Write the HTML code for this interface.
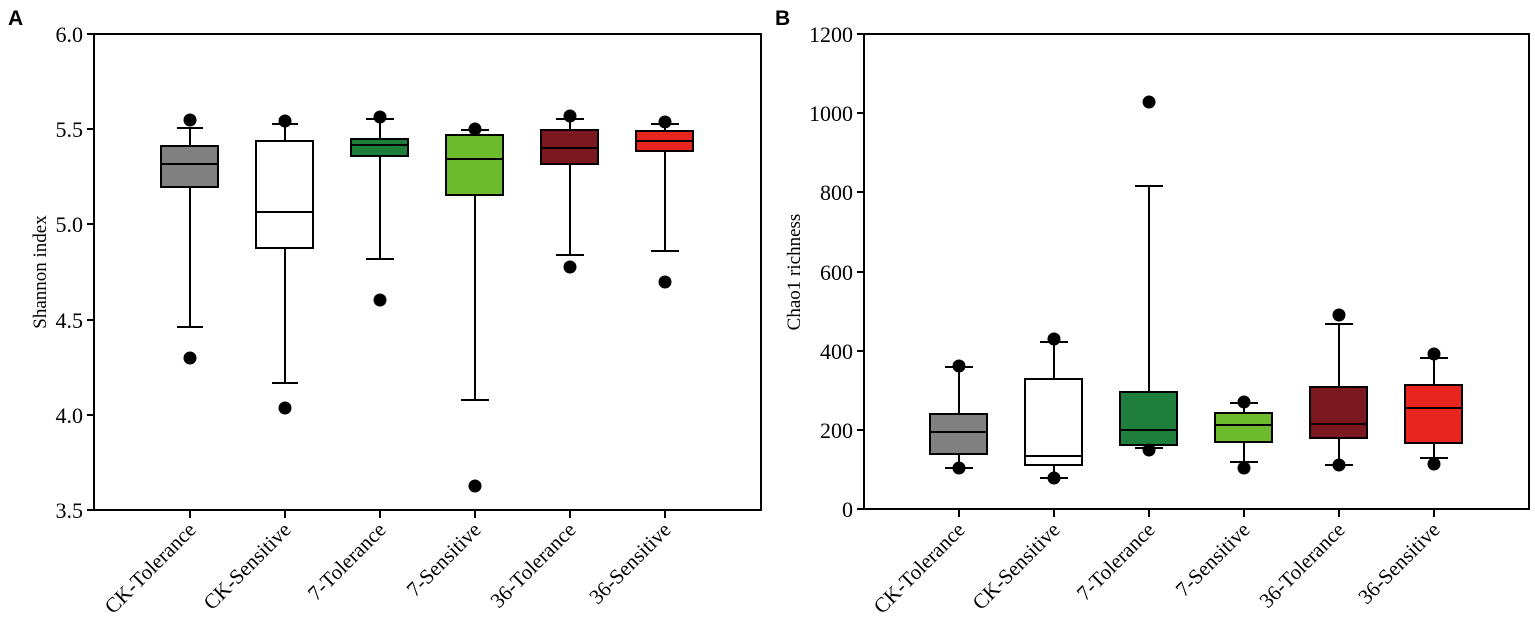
<!DOCTYPE html>
<html><head><style>body{margin:0;background:#fff}svg{display:block}</style></head><body>
<svg width="1535" height="626" xmlns="http://www.w3.org/2000/svg" font-family="Liberation Serif, serif">
<rect width="1535" height="626" fill="#fff"/>
<text x="8" y="25" font-family="Liberation Sans, sans-serif" font-weight="bold" font-size="21">A</text>
<text x="775" y="25" font-family="Liberation Sans, sans-serif" font-weight="bold" font-size="21">B</text>
<g stroke="#000" stroke-width="2" fill="none">
<rect x="94" y="34" width="667" height="476"/>
<rect x="864" y="34" width="665" height="475"/>
<path d="M87 34H94M87 129H94M87 224H94M87 320H94M87 415H94M87 510H94"/>
<path d="M190 510v8M285 510v8M380 510v8M475 510v8M570 510v8M665 510v8"/>
<path d="M857 34H864M857 113H864M857 192H864M857 272H864M857 351H864M857 430H864M857 509H864"/>
<path d="M959 509v8M1054 509v8M1149 509v8M1244 509v8M1339 509v8M1434 509v8"/>
</g>
<g font-size="22" text-anchor="end">
<text x="83" y="42">6.0</text><text x="83" y="137">5.5</text><text x="83" y="232">5.0</text><text x="83" y="328">4.5</text><text x="83" y="423">4.0</text><text x="83" y="518">3.5</text>
<text x="853" y="42">1200</text><text x="853" y="121">1000</text><text x="853" y="200">800</text><text x="853" y="280">600</text><text x="853" y="359">400</text><text x="853" y="438">200</text><text x="853" y="517">0</text>
</g>
<text transform="translate(46,272) rotate(-90)" font-size="19" text-anchor="middle">Shannon index</text>
<text transform="translate(800,272) rotate(-90)" font-size="19" text-anchor="middle">Chao1 richness</text>
<g font-size="21" text-anchor="end">
<text transform="translate(197,531) rotate(-45)">CK-Tolerance</text>
<text transform="translate(292,531) rotate(-45)">CK-Sensitive</text>
<text transform="translate(387,531) rotate(-45)">7-Tolerance</text>
<text transform="translate(482,531) rotate(-45)">7-Sensitive</text>
<text transform="translate(577,531) rotate(-45)">36-Tolerance</text>
<text transform="translate(672,531) rotate(-45)">36-Sensitive</text>
<text transform="translate(966,531) rotate(-45)">CK-Tolerance</text>
<text transform="translate(1061,531) rotate(-45)">CK-Sensitive</text>
<text transform="translate(1156,531) rotate(-45)">7-Tolerance</text>
<text transform="translate(1251,531) rotate(-45)">7-Sensitive</text>
<text transform="translate(1346,531) rotate(-45)">36-Tolerance</text>
<text transform="translate(1441,531) rotate(-45)">36-Sensitive</text>
</g>
<g stroke="#000" stroke-width="2">
<path d="M190 128V327M177 128H203M177 327H203"/><rect x="161" y="146" width="57" height="41" fill="#808080"/><path d="M161 164H218"/>
<path d="M285 124V383M272 124H298M272 383H298"/><rect x="256" y="141" width="57" height="107" fill="#fff"/><path d="M256 212H313"/>
<path d="M380 119V259M366 119H394M366 259H394"/><rect x="351" y="139" width="57" height="17" fill="#1e7e3c"/><path d="M351 145H408"/>
<path d="M475 130V400M461 130H489M461 400H489"/><rect x="446" y="135" width="57" height="60" fill="#6cbb2c"/><path d="M446 159H503"/>
<path d="M570 119V255M556 119H584M556 255H584"/><rect x="541" y="130" width="57" height="34" fill="#7b1820"/><path d="M541 148H598"/>
<path d="M665 124V251M651 124H679M651 251H679"/><rect x="636" y="131" width="57" height="20" fill="#e8261f"/><path d="M636 141H693"/>
<path d="M959 367V468M945 367H973M945 468H973"/><rect x="930" y="414" width="57" height="40" fill="#808080"/><path d="M930 432H987"/>
<path d="M1054 342V478M1040 342H1068M1040 478H1068"/><rect x="1025" y="379" width="57" height="86" fill="#fff"/><path d="M1025 456H1082"/>
<path d="M1149 186V448M1135 186H1163M1135 448H1163"/><rect x="1120" y="392" width="57" height="53" fill="#1e7e3c"/><path d="M1120 430H1177"/>
<path d="M1244 403V462M1230 403H1258M1230 462H1258"/><rect x="1215" y="413" width="57" height="29" fill="#6cbb2c"/><path d="M1215 425H1272"/>
<path d="M1339 324V465M1325 324H1353M1325 465H1353"/><rect x="1310" y="387" width="57" height="51" fill="#7b1820"/><path d="M1310 424H1367"/>
<path d="M1434 358V458M1420 358H1448M1420 458H1448"/><rect x="1405" y="385" width="57" height="58" fill="#e8261f"/><path d="M1405 408H1462"/>
</g>
<g fill="#000">
<circle cx="190" cy="120" r="6.5"/><circle cx="190" cy="358" r="6.5"/>
<circle cx="285" cy="121" r="6.5"/><circle cx="285" cy="408" r="6.5"/>
<circle cx="380" cy="117" r="6.5"/><circle cx="380" cy="300" r="6.5"/>
<circle cx="475" cy="129" r="6.5"/><circle cx="475" cy="486" r="6.5"/>
<circle cx="570" cy="116" r="6.5"/><circle cx="570" cy="267" r="6.5"/>
<circle cx="665" cy="122" r="6.5"/><circle cx="665" cy="282" r="6.5"/>
<circle cx="959" cy="366" r="6.5"/><circle cx="959" cy="468" r="6.5"/>
<circle cx="1054" cy="339" r="6.5"/><circle cx="1054" cy="478" r="6.5"/>
<circle cx="1149" cy="102" r="6.5"/><circle cx="1149" cy="450" r="6.5"/>
<circle cx="1244" cy="402" r="6.5"/><circle cx="1244" cy="468" r="6.5"/>
<circle cx="1339" cy="315" r="6.5"/><circle cx="1339" cy="465" r="6.5"/>
<circle cx="1434" cy="354" r="6.5"/><circle cx="1434" cy="464" r="6.5"/>
</g>
</svg>
</body></html>
